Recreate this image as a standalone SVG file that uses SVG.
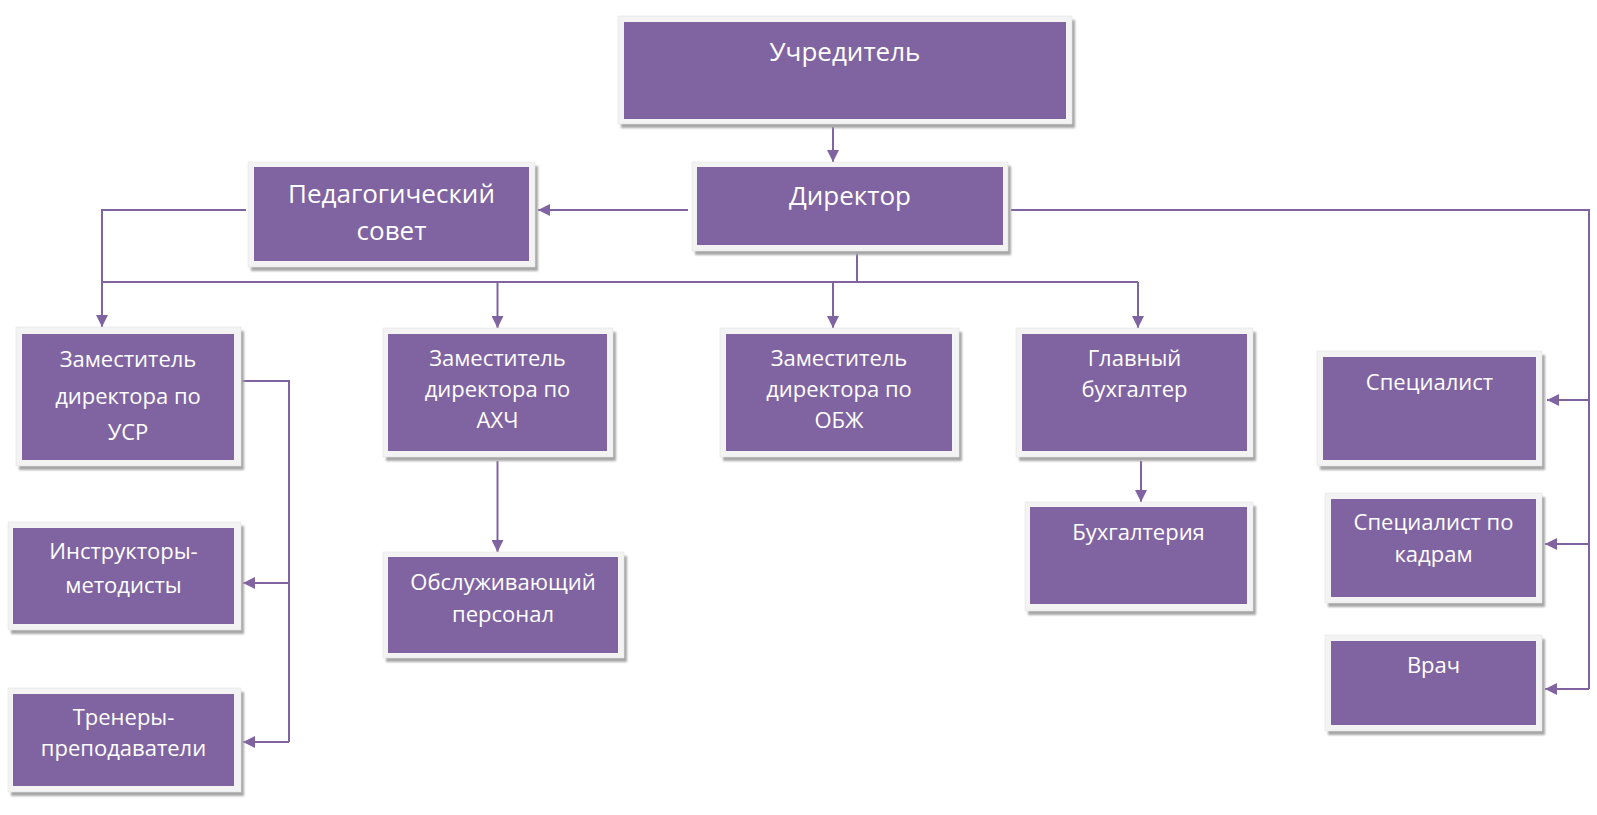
<svg xmlns="http://www.w3.org/2000/svg" width="1597" height="815" viewBox="0 0 1597 815">
<style>
.sh{fill:#a6a6a6;filter:url(#blur)}
.fr{fill:#f3f3f3;stroke:#e4e4e4;stroke-width:0.6}
.in{fill:#8064a2}
text{font-family:"Open Sans","Noto Sans","DejaVu Sans",sans-serif;fill:#ffffff;text-anchor:middle;font-size:22px}
.big{font-size:26px}
.ln{fill:none;stroke:#8064a2;stroke-width:2}
.ar{marker-end:url(#arr)}
</style>
<defs>
<filter id="blur" x="-5%" y="-5%" width="110%" height="115%"><feGaussianBlur stdDeviation="0.8"/></filter>
<marker id="arr" viewBox="0 0 10 10" refX="10" refY="5" markerWidth="12" markerHeight="12" markerUnits="userSpaceOnUse" orient="auto">
<path d="M0,0 L10,5 L0,10 z" fill="#8064a2"/>
</marker>
</defs>
<rect width="1597" height="815" fill="#ffffff"/>

<g id="connectors">
<path class="ln ar" d="M833,127 V162"/>
<path class="ln ar" d="M688,210 H538"/>
<path class="ln ar" d="M246,210 H102 V327"/>
<path class="ln" d="M857,253 V282"/>
<path class="ln" d="M102,282 H1138"/>
<path class="ln ar" d="M497.5,282 V328"/>
<path class="ln ar" d="M833,282 V328"/>
<path class="ln ar" d="M1138,282 V328"/>
<path class="ln" d="M1011,210 H1589 V689"/>
<path class="ln ar" d="M1589,400 H1547"/>
<path class="ln ar" d="M1589,544 H1545"/>
<path class="ln ar" d="M1589,689 H1545"/>
<path class="ln" d="M242,381 H289 V742"/>
<path class="ln ar" d="M289,583 H243"/>
<path class="ln ar" d="M289,742 H243"/>
<path class="ln ar" d="M497.5,461 V552"/>
<path class="ln ar" d="M1141,461 V502"/>
</g>

<g id="n-uchreditel">
<rect class="sh" x="621" y="20" width="454" height="108"/>
<rect class="fr" x="618" y="16" width="454" height="108"/>
<rect class="in" x="624" y="22" width="442" height="97"/>
<text class="big" x="845" y="61">Учредитель</text>
</g>

<g id="n-direktor">
<rect class="sh" x="695" y="166" width="316" height="89"/>
<rect class="fr" x="692" y="162" width="316" height="89"/>
<rect class="in" x="697" y="167" width="306" height="78"/>
<text class="big" x="850" y="205">Директор</text>
</g>

<g id="n-pedsovet">
<rect class="sh" x="251" y="166" width="287" height="105"/>
<rect class="fr" x="248" y="162" width="287" height="105"/>
<rect class="in" x="254" y="167" width="275" height="94"/>
<text class="big" x="391.5" y="203">Педагогический</text>
<text class="big" x="391.5" y="240">совет</text>
</g>

<g id="n-usr">
<rect class="sh" x="19" y="331" width="225" height="139"/>
<rect class="fr" x="16" y="327" width="225" height="139"/>
<rect class="in" x="22" y="334" width="212" height="126"/>
<text x="128" y="367">Заместитель</text>
<text x="128" y="404">директора по</text>
<text x="128" y="440">УСР</text>
</g>

<g id="n-ahch">
<rect class="sh" x="386" y="332" width="230" height="129"/>
<rect class="fr" x="383" y="328" width="230" height="129"/>
<rect class="in" x="388" y="334" width="219" height="117"/>
<text x="497.5" y="366">Заместитель</text>
<text x="497.5" y="397">директора по</text>
<text x="497.5" y="428">АХЧ</text>
</g>

<g id="n-obzh">
<rect class="sh" x="723" y="332" width="239" height="129"/>
<rect class="fr" x="720" y="328" width="239" height="129"/>
<rect class="in" x="726" y="334" width="226" height="117"/>
<text x="839" y="366">Заместитель</text>
<text x="839" y="397">директора по</text>
<text x="839" y="428">ОБЖ</text>
</g>

<g id="n-glavbuh">
<rect class="sh" x="1019" y="332" width="237" height="129"/>
<rect class="fr" x="1016" y="328" width="237" height="129"/>
<rect class="in" x="1022" y="334" width="225" height="117"/>
<text x="1134.5" y="366">Главный</text>
<text x="1134.5" y="397">бухгалтер</text>
</g>

<g id="n-buhgalteria">
<rect class="sh" x="1028" y="506" width="228" height="109"/>
<rect class="fr" x="1025" y="502" width="228" height="109"/>
<rect class="in" x="1030" y="507" width="217" height="97"/>
<text x="1138.5" y="540">Бухгалтерия</text>
</g>

<g id="n-obsluzh">
<rect class="sh" x="386" y="556" width="241" height="106"/>
<rect class="fr" x="383" y="552" width="241" height="106"/>
<rect class="in" x="388" y="557" width="230" height="96"/>
<text x="503" y="590">Обслуживающий</text>
<text x="503" y="622">персонал</text>
</g>

<g id="n-instruktory">
<rect class="sh" x="11" y="526" width="233" height="108"/>
<rect class="fr" x="8" y="522" width="233" height="108"/>
<rect class="in" x="13" y="528" width="221" height="96"/>
<text x="123.5" y="559">Инструкторы-</text>
<text x="123.5" y="593">методисты</text>
</g>

<g id="n-trenery">
<rect class="sh" x="11" y="692" width="233" height="104"/>
<rect class="fr" x="8" y="688" width="233" height="104"/>
<rect class="in" x="13" y="694" width="221" height="92"/>
<text x="123.5" y="725">Тренеры-</text>
<text x="123.5" y="756">преподаватели</text>
</g>

<g id="n-specialist">
<rect class="sh" x="1320" y="355" width="225" height="115"/>
<rect class="fr" x="1317" y="351" width="225" height="115"/>
<rect class="in" x="1323" y="357" width="213" height="103"/>
<text x="1429.5" y="390">Специалист</text>
</g>

<g id="n-kadry">
<rect class="sh" x="1328" y="497" width="217" height="110"/>
<rect class="fr" x="1325" y="493" width="217" height="110"/>
<rect class="in" x="1331" y="499" width="205" height="98"/>
<text x="1433.5" y="530">Специалист по</text>
<text x="1433.5" y="562">кадрам</text>
</g>

<g id="n-vrach">
<rect class="sh" x="1328" y="639" width="217" height="96"/>
<rect class="fr" x="1325" y="635" width="217" height="96"/>
<rect class="in" x="1331" y="641" width="205" height="84"/>
<text x="1433.5" y="673">Врач</text>
</g>
</svg>
